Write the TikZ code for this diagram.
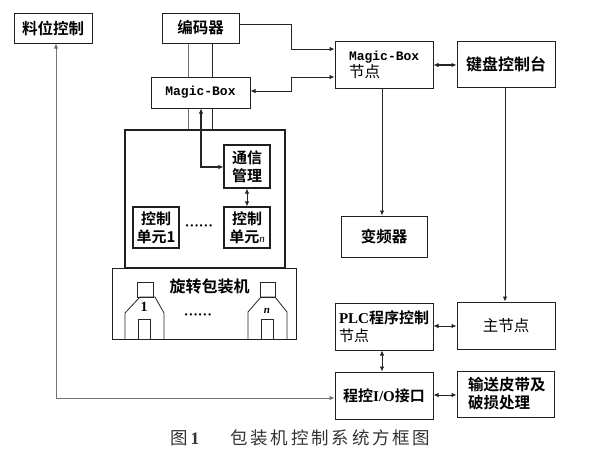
\documentclass[tikz,border=0pt]{standalone}
\usepackage{fontspec}
\usetikzlibrary{arrows.meta}
\setmainfont{Liberation Serif}
\setmonofont{Liberation Mono}
\newfontfamily\cjkb{Noto Sans CJK SC Bold}
\newfontfamily\cjkr{Noto Sans CJK SC}
\tikzset{
  x=1pt,y=-1pt,
  >={Latex[length=5pt,width=4.6pt]},
  box/.style={draw=black!88,line width=1pt,fill=white,inner sep=0pt,font=\fontsize{15.5}{18}\selectfont\cjkb},
  tbox/.style={box,line width=1.1pt,font=\fontsize{15}{18}\selectfont\cjkb,align=center},
  link/.style={draw=black!85,line width=.95pt},
  thin link/.style={draw=black!55,line width=.9pt},
  figure part/.style={draw=black!85,line width=.8pt},
  mono/.style={font=\fontsize{13}{16}\selectfont\ttfamily\bfseries},
  dots/.style={inner sep=0pt,font=\fontsize{14}{14}\selectfont\bfseries}
}
\begin{document}
\begin{tikzpicture}
\useasboundingbox (0,0) rectangle (592,455);
\node[box,minimum width=78pt,minimum height=30pt] (level) at (53,28) {料位控制};
\node[box,minimum width=77pt,minimum height=30pt] (enc) at (200.5,28) {编码器};
\node[box,mono,minimum width=99pt,minimum height=31pt] (mb) at (200.5,92.5) {Magic-Box};
\node[box,line width=1.2pt,minimum width=160pt,minimum height=138pt] (frame) at (205,199) {};
\node[tbox,minimum width=46pt,minimum height=43pt] (comm) at (247,166.5) {通信\\管理};
\node[tbox,minimum width=46pt,minimum height=41pt] (unit1) at (156,227.5) {控制\\单元1};
\node[tbox,minimum width=46pt,minimum height=41pt] (unitn) at (247,227.5) {控制\\单元{\rmfamily\itshape\fontsize{11}{11}\selectfont n}};
\node[dots] (dotsa) at (199,228) {······};
\node[box,minimum width=184pt,minimum height=71pt] (pack) at (204,303.5) {};
\node[font=\fontsize{16}{18}\selectfont\cjkb,inner sep=0pt] (packlabel) at (209.5,286) {旋转包装机};
\node[box,align=left,minimum width=98pt,minimum height=47pt,text width=70pt] (mbn) at (384,64.5) {{\fontsize{13}{16}\selectfont\ttfamily\bfseries Magic-Box}\\[-1pt]{\cjkr 节点}};
\node[box,minimum width=98pt,minimum height=46pt,font=\fontsize{16}{18}\selectfont\cjkb] (kbd) at (506,64) {键盘控制台};
\node[box,minimum width=86pt,minimum height=41pt] (inv) at (384,236.5) {变频器};
\node[box,align=left,minimum width=98pt,minimum height=47pt,text width=90pt,font=\fontsize{15}{18}\selectfont\cjkb] (plc) at (384,326.5) {{\bfseries\fontsize{15}{18}\selectfont\rmfamily PLC}程序控制\\{\cjkr 节点}};
\node[box,minimum width=98pt,minimum height=47pt,font=\fontsize{15.5}{18}\selectfont\cjkr] (main) at (506,325.5) {主节点};
\node[box,minimum width=98pt,minimum height=47pt,font=\fontsize{15}{18}\selectfont\cjkb] (io) at (384,395.5) {程控{\rmfamily\bfseries I/O}接口};
\node[box,align=left,minimum width=97pt,minimum height=46pt,text width=75pt] (belt) at (505.5,394) {输送皮带及\\破损处理};
% machines
\node[figure part,inner sep=0pt,minimum width=16pt,minimum height=15pt] (h1top) at (145,289.5) {};
\node[figure part,inner sep=0pt,minimum width=12pt,minimum height=20pt] (h1door) at (144,329) {};
\draw[figure part] (125,339) -- (125,313) -- (140,297) -- (155,297) -- (164,313) -- (164,339);
\node[font=\fontsize{14}{14}\selectfont\rmfamily\bfseries,inner sep=0pt] (h1num) at (144,307) {1};
\node[figure part,line width=1pt,inner sep=0pt,minimum width=15pt,minimum height=15pt] (hntop) at (267.5,289.5) {};
\node[figure part,line width=1pt,inner sep=0pt,minimum width=12pt,minimum height=20pt] (hndoor) at (267,329) {};
\draw[figure part] (248,339) -- (248,312) -- (261,297) -- (275,297) -- (287,312) -- (287,339);
\node[font=\fontsize{11}{11}\selectfont\rmfamily\bfseries\itshape,inner sep=0pt] (hnnum) at (267,311) {n};
\node[dots] (dotsb) at (198,317) {······};
% guides
\coordinate (xa) at (188,0);
\coordinate (xb) at (212,0);
\coordinate (xc) at (201,0);
\coordinate (xd) at (382,0);
\coordinate (ya) at (0,49);
\coordinate (yb) at (0,77);
\coordinate (yc) at (0,24);
\coordinate (yd) at (0,91);
\coordinate (xe) at (291,0);
\coordinate (xf) at (56,0);
\coordinate (xg) at (505,0);
\coordinate (yh) at (0,326);
\coordinate (yi) at (0,395);
\coordinate (yj) at (0,398);
\coordinate (yk) at (0,65);
\coordinate (yl) at (0,167);
% connectors
\draw[thin link] (enc.south -| xa) -- (mb.north -| xa);
\draw[link] (enc.south -| xb) -- (mb.north -| xb);
\draw[thin link] (mb.south -| xa) -- (frame.north -| xa);
\draw[link] (mb.south -| xb) -- (frame.north -| xb);
\draw[link,->] (enc.east |- yc) -- (xe |- yc) -- (xe |- ya) -- (mbn.west |- ya);
\draw[link,<->] (mb.east |- yd) -- (xe |- yd) -- (xe |- yb) -- (mbn.west |- yb);
\draw[link,line width=1.1pt,<->] (mb.south -| xc) -- (xc |- yl) -- (comm.west |- yl);
\draw[link,<->] (comm.south) -- (unitn.north);
\draw[thin link,<->] (level.south -| xf) -- (xf |- yj) -- (io.west |- yj);
\draw[link,line width=1.1pt,<->] (mbn.east |- yk) -- (kbd.west |- yk);
\draw[link,->] (mbn.south -| xd) -- (inv.north -| xd);
\draw[link,->] (kbd.south -| xg) -- (main.north -| xg);
\draw[link,<->] (main.west |- yh) -- (plc.east |- yh);
\draw[link,<->] (plc.south -| xd) -- (io.north -| xd);
\draw[link,<->] (io.east |- yi) -- (belt.west |- yi);
% caption
\node[anchor=west,inner sep=0pt,text=black!80,font=\fontsize{17.5}{20}\selectfont\cjkr] (capa) at (170,438) {图\hspace{3pt}{\rmfamily\bfseries 1}};
\node[anchor=west,inner sep=0pt,text=black!80,font=\fontsize{17.5}{20}\selectfont\cjkr] (capb) at (230,438) {包\hspace{2.8pt}装\hspace{2.8pt}机\hspace{2.8pt}控\hspace{2.8pt}制\hspace{2.8pt}系\hspace{2.8pt}统\hspace{2.8pt}方\hspace{2.8pt}框\hspace{2.8pt}图};
\end{tikzpicture}
\end{document}
